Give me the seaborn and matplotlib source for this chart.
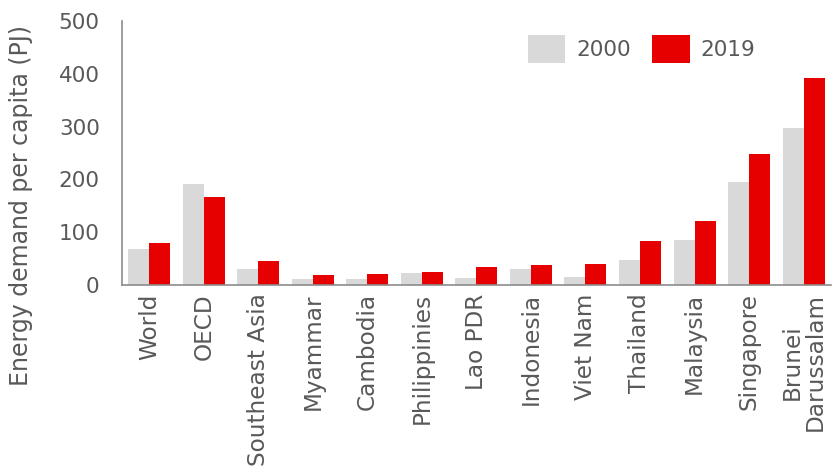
import matplotlib
matplotlib.use("Agg")
import matplotlib.pyplot as plt
import seaborn as sns
import pandas as pd

categories = ["World", "OECD", "Southeast Asia", "Myammar", "Cambodia", "Philippinies",
              "Lao PDR", "Indonesia", "Viet Nam", "Thailand", "Malaysia", "Singapore",
              "Brunei\nDarussalam"]
values_2000 = [68, 192, 31, 12, 12, 22, 14, 31, 16, 48, 86, 195, 298]
values_2019 = [79, 167, 46, 19, 21, 25, 34, 37, 39, 83, 121, 248, 393]
years = ["2000", "2019"]
y_ticks = [0, 100, 200, 300, 400, 500]

df = pd.DataFrame({
    "region": categories * 2,
    "year": [years[0]] * len(categories) + [years[1]] * len(categories),
    "value": values_2000 + values_2019,
})

sns.set_theme(style="white")
plt.rcParams["font.family"] = ["DejaVu Sans"]
text_color = "#595959"
fs = 15.5
label_fs = 16.7

fig = plt.figure(figsize=(8.32, 4.68), dpi=100)
ax = fig.add_axes([0.1466, 0.391, 0.852, 0.564])

sns.barplot(data=df, x="region", y="value", hue="year",
            palette={"2000": "#D9D9D9", "2019": "#E60000"},
            width=0.77, gap=0, saturation=1, ax=ax, linewidth=0)

ax.set_ylim(0, 500)
ax.set_xlim(-0.5, len(categories) - 0.5)
ax.set_yticks(y_ticks)
ax.set_yticklabels([str(t) for t in y_ticks])
ax.set_xlabel("")
ax.set_ylabel("Energy demand per capita (PJ)", fontsize=17, color=text_color)
ax.yaxis.set_label_coords(-0.125, 0.303)
ax.tick_params(axis="y", length=0, labelsize=fs, labelcolor=text_color, pad=16)
ax.tick_params(axis="x", length=0, labelsize=label_fs, labelcolor=text_color, pad=6)
plt.setp(ax.get_xticklabels(), rotation=90, linespacing=1.0)

for side in ["top", "right"]:
    ax.spines[side].set_visible(False)
for side in ["left", "bottom"]:
    ax.spines[side].set_color("#8C8C8C")
    ax.spines[side].set_linewidth(1.2)

leg = ax.legend(ncol=2, frameon=False, fontsize=fs, loc="center",
                bbox_to_anchor=(0.733, 0.894), handlelength=1.75, handleheight=1.65,
                handletextpad=0.5, columnspacing=1.0)
for t in leg.get_texts():
    t.set_color(text_color)

fig.savefig("out.png", dpi=100)
